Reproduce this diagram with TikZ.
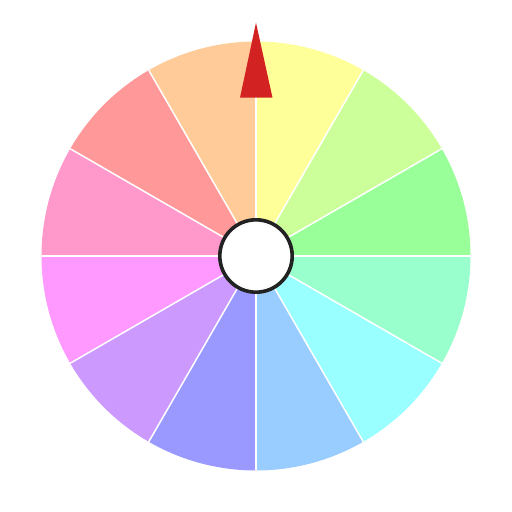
\documentclass[tikz,border=0pt]{standalone}
\begin{document}
\begin{tikzpicture}[x=1pt,y=1pt]
\useasboundingbox (0,0) rectangle (512,512);
\def\R{214.5}
\coordinate (c) at (256,256);
\foreach \i/\col in {0/FFFF99,1/CCFF99,2/99FF99,3/99FFCC,4/99FFFF,5/99CCFF,6/9999FF,7/CC99FF,8/FF99FF,9/FF99CC,10/FF9999,11/FFCC99}{
  \definecolor{sec\i}{HTML}{\col}
  \pgfmathsetmacro\a{90-30*\i}
  \pgfmathsetmacro\b{60-30*\i}
  \fill[sec\i] (c) -- ++(\a:\R) arc[start angle=\a,end angle=\b,radius=\R] -- cycle;
}
\foreach \i in {0,...,11}{
  \draw[white,line width=1.5pt] (c) -- ++(90-30*\i:\R);
}
\definecolor{ring}{HTML}{222222}
\definecolor{ptr}{HTML}{D22222}
\draw[ring,fill=white,line width=3.6pt] (c) circle[radius=36.2];
\fill[ptr] (240,414.3) -- (256,489.3) -- (272.5,414.3) -- cycle;
\end{tikzpicture}
\end{document}
